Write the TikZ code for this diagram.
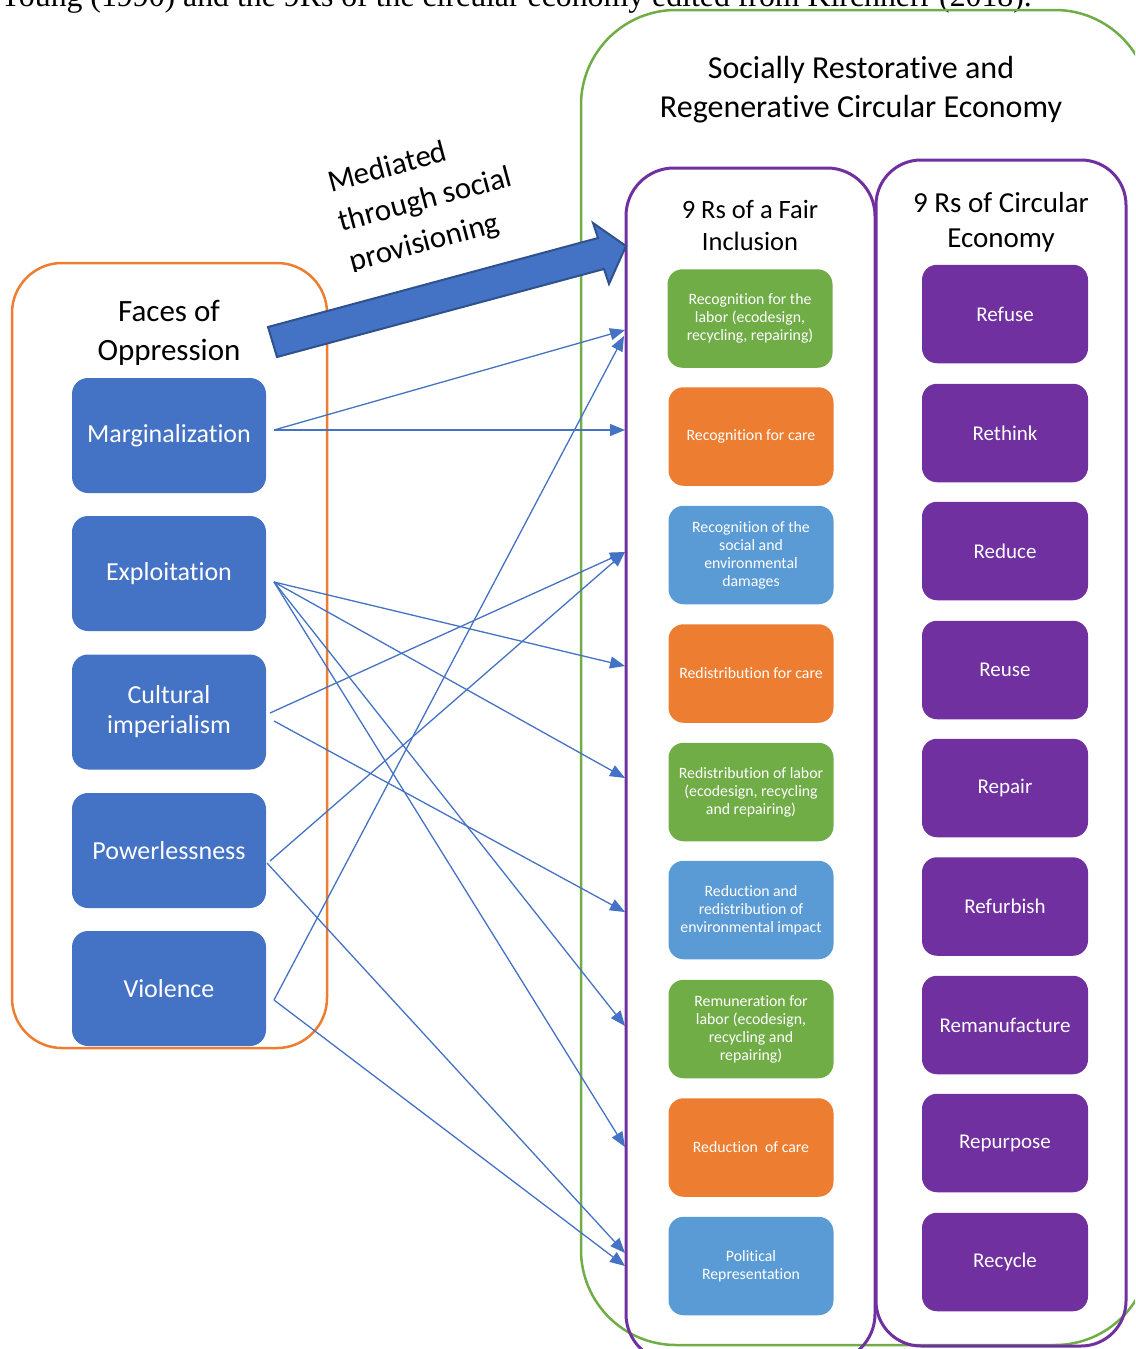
\documentclass[tikz,border=0pt]{standalone}
\usepackage{fontspec}
\setmainfont{Carlito}[Ligatures=NoCommon]
\newfontfamily\capfont{Liberation Serif}
\usetikzlibrary{arrows.meta}
\definecolor{cBlue}{HTML}{4472C4}
\definecolor{cBlueDark}{HTML}{2F528F}
\definecolor{cLight}{HTML}{5B9BD5}
\definecolor{cOrange}{HTML}{ED7D31}
\definecolor{cGreen}{HTML}{70AD47}
\definecolor{cPurple}{HTML}{7030A0}
\begin{document}
\begin{tikzpicture}[x=1pt,y=-1pt,
  face/.style={fill=cBlue, rounded corners=16pt, minimum width=194pt, minimum height=115pt,
    text=white, font=\fontsize{26}{30}\selectfont, align=center, inner sep=0pt},
  fairbox/.style={rounded corners=15pt, minimum width=165pt, minimum height=98.5pt,
    text=white, font=\fontsize{15.8}{18}\selectfont, align=center, inner sep=0pt},
  crbox/.style={fill=cPurple, rounded corners=15pt, minimum width=166pt, minimum height=98.5pt,
    text=white, font=\fontsize{21}{25}\selectfont, inner sep=0pt},
  link/.style={cBlue, line width=1.3pt, -{Triangle[length=15pt,width=12pt]}},
  ttl/.style={anchor=base, inner sep=0pt},
  medtxt/.style={anchor=west, inner sep=0pt, rotate=15, align=left, font=\fontsize{31}{41}\selectfont}
]
\useasboundingbox (0,0) rectangle (1135,1349);
\clip (0,0) rectangle (1135,1349);

% caption line (cut off at top)
\node[anchor=base west, inner sep=0pt, font=\capfont\fontsize{31.8}{38}\selectfont] (cap) at (-1,6)
  {Young (1990) and the 9Rs of the circular economy edited from Kirchherr (2018).};

% containers
\draw[cGreen, line width=2.5pt, rounded corners=95pt] (581,10) rectangle (1150,1345);
\draw[cPurple, line width=3pt, rounded corners=48pt] (626,168) rectangle (875,1362);
\draw[cPurple, line width=3pt, rounded corners=45pt] (876,160) rectangle (1126,1346);
\draw[cOrange, line width=2.5pt, rounded corners=50pt] (12,263) rectangle (327,1048);

% titles
\node[ttl, font=\fontsize{32}{39}\selectfont] (srA) at (861,78) {Socially Restorative and};
\node[ttl, font=\fontsize{32}{39}\selectfont] (srB) at (861,117) {Regenerative Circular Economy};
\node[ttl, font=\fontsize{26.5}{32}\selectfont] (fiA) at (750,218) {9 Rs of a Fair};
\node[ttl, font=\fontsize{26.5}{32}\selectfont] (fiB) at (750,250) {Inclusion};
\node[ttl, font=\fontsize{29}{35}\selectfont] (ceA) at (1001,212) {9 Rs of Circular};
\node[ttl, font=\fontsize{29}{35}\selectfont] (ceB) at (1001,247) {Economy};
\node[ttl, font=\fontsize{31}{39}\selectfont] (foA) at (169,321) {Faces of};
\node[ttl, font=\fontsize{31}{39}\selectfont] (foB) at (169,360) {Oppression};

% faces of oppression
\node[face] (marg) at (169,435.5) {Marginalization};
\node[face] (expl) at (169,573.5) {Exploitation};
\node[face] (cult) at (169,712) {Cultural\\imperialism};
\node[face] (powl) at (169,850.5) {Powerlessness};
\node[face] (viol) at (169,988.5) {Violence};

% 9 Rs of a fair inclusion
\node[fairbox, fill=cGreen]  (f1) at (750,318.5) {Recognition for the\\labor (ecodesign,\\recycling, repairing)};
\node[fairbox, fill=cOrange] (f2) at (751,436.5) {Recognition for care};
\node[fairbox, fill=cLight]  (f3) at (751,555) {Recognition of the\\social and\\environmental\\damages};
\node[fairbox, fill=cOrange] (f4) at (751,673.5) {Redistribution for care};
\node[fairbox, fill=cGreen]  (f5) at (751,792) {Redistribution of labor\\(ecodesign, recycling\\and repairing)};
\node[fairbox, fill=cLight]  (f6) at (751,910) {Reduction and\\redistribution of\\environmental impact};
\node[fairbox, fill=cGreen]  (f7) at (751,1029) {Remuneration for\\labor (ecodesign,\\recycling and\\repairing)};
\node[fairbox, fill=cOrange] (f8) at (751,1147.5) {Reduction\ \ of care};
\node[fairbox, fill=cLight]  (f9) at (751,1266) {Political\\Representation};

% 9 Rs of circular economy
\node[crbox] (c1) at (1005,314) {Refuse};
\node[crbox] (c2) at (1005,433) {Rethink};
\node[crbox] (c3) at (1005,551) {Reduce};
\node[crbox] (c4) at (1005,670) {Reuse};
\node[crbox] (c5) at (1005,788) {Repair};
\node[crbox] (c6) at (1005,906.5) {Refurbish};
\node[crbox] (c7) at (1005,1025) {Remanufacture};
\node[crbox] (c8) at (1005,1143) {Repurpose};
\node[crbox] (c9) at (1005,1262) {Recycle};

% mediated text (bottom of last line cut as in the reference)
\begin{scope}
  \clip (300,120) rectangle (600,271);
  \node[medtxt] (med) at (339.5,224) {Mediated\\through social\\provisioning};
\end{scope}

% big arrow
\draw[fill=cBlue, draw=cBlueDark, line width=2pt, line join=miter]
  (268,327) -- (598,238) -- (593,223) -- (626,246) -- (609,284) -- (604,269) -- (277,357) -- cycle;

% connector endpoints
\coordinate (sM) at (274,430);
\coordinate (sE) at (274,582);
\coordinate (sC1) at (270,713);
\coordinate (sC2) at (274,721);
\coordinate (sP1) at (270,861);
\coordinate (sP2) at (267,863);
\coordinate (sV) at (274,1000);
\coordinate (eA) at (625,330);
\coordinate (eA2) at (624,336);
\coordinate (eB) at (625,430);
\coordinate (eC) at (625,552);
\coordinate (eD) at (625,666);
\coordinate (eE) at (625,778);
\coordinate (eF) at (625,912);
\coordinate (eG) at (625,1026);
\coordinate (eH) at (625,1147);
\coordinate (eI) at (625,1253);
\coordinate (eI2) at (625,1266);

% connectors
\draw[link] (sM) -- (eA);
\draw[link] (sM) -- (eB);
\draw[link] (sE) -- (eD);
\draw[link] (sE) -- (eE);
\draw[link] (sE) -- (eG);
\draw[link] (sE) -- (eH);
\draw[link] (sC1) -- (eC);
\draw[link] (sC2) -- (eF);
\draw[link] (sP1) -- (eC);
\draw[link] (sP2) -- (eI);
\draw[link] (sV) -- (eA2);
\draw[link] (sV) -- (eI2);
\end{tikzpicture}
\end{document}
